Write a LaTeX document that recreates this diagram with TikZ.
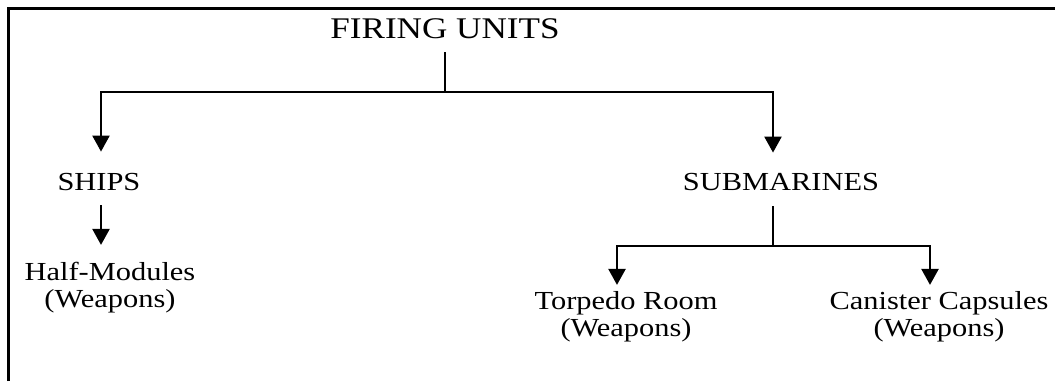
\documentclass[tikz,border=0pt]{standalone}
\usepackage{fontspec}
\setmainfont{Liberation Serif}
\usepackage{graphicx}
\usetikzlibrary{arrows.meta,calc}
\newcommand{\stretchtxt}[1]{\scalebox{1.17}[1]{#1}}
\begin{document}
\begin{tikzpicture}[x=1pt,y=-1pt,
  lbl/.style={font=\fontsize{26}{27}\selectfont, inner sep=0pt, anchor=base},
  title/.style={font=\fontsize{30}{32}\selectfont, inner sep=0pt, anchor=base},
  stem/.style={line width=1.2pt},
  bus/.style={line width=1.8pt},
  arr/.style={line width=2.4pt, -{Triangle[width=17pt,length=16pt]}},
  frame/.style={line width=3pt}
]
\useasboundingbox (0,0) rectangle (1055,381);
\draw[frame] (8.5,381) -- (8.5,8.5) -- (1055,8.5);

\node[title] (fu) at (445,38) {\stretchtxt{FIRING UNITS}};
\node[lbl] (ships) at (99,190) {\stretchtxt{SHIPS}};
\node[lbl] (subs) at (781,190) {\stretchtxt{SUBMARINES}};
\node[lbl] (half) at (110,280) {\stretchtxt{\begin{tabular}[t]{@{}c@{}}Half-Modules\\(Weapons)\end{tabular}}};
\node[lbl] (torp) at (626,309) {\stretchtxt{\begin{tabular}[t]{@{}c@{}}Torpedo Room\\(Weapons)\end{tabular}}};
\node[lbl] (can) at (939,309) {\stretchtxt{\begin{tabular}[t]{@{}c@{}}Canister Capsules\\(Weapons)\end{tabular}}};

\coordinate (busM) at (445,92);
\coordinate (busL) at (101,92);
\coordinate (busR) at (773,92);
\coordinate (sbusM) at (773,246);
\coordinate (sbusL) at (617,246);
\coordinate (sbusR) at (930,246);

\draw[stem, shorten <=14pt] (fu.south) -- (busM);
\draw[bus, line cap=rect] (busL) -- (busR);
\draw[arr, shorten >=21pt] (busL) -- (busL |- ships.north);
\draw[arr, shorten >=20pt] (busR) -- (busR |- subs.north);
\draw[arr, shorten <=15pt, shorten >=16pt] (busL |- ships.south) -- (busL |- half.north);
\draw[stem, shorten <=16pt] (sbusM |- subs.south) -- (sbusM);
\draw[bus, line cap=rect] (sbusL) -- (sbusR);
\draw[arr, shorten >=5pt] (sbusL) -- (sbusL |- torp.north);
\draw[arr, shorten >=5pt] (sbusR) -- (sbusR |- can.north);
\end{tikzpicture}
\end{document}
